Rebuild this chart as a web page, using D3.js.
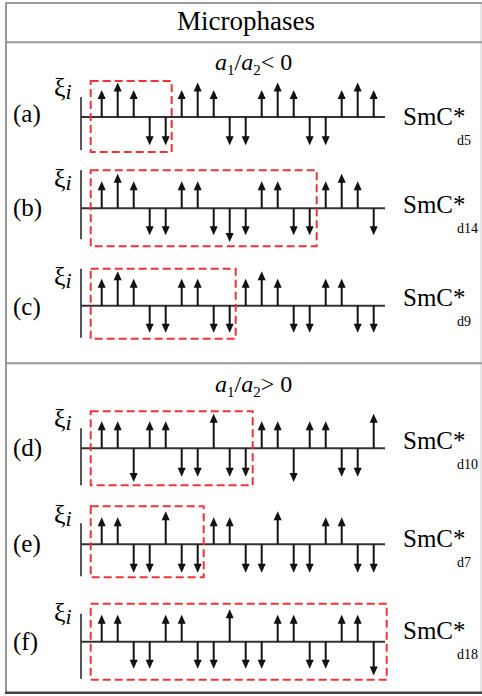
<!DOCTYPE html>
<html>
<head>
<meta charset="utf-8">
<script src="https://cdn.jsdelivr.net/npm/d3@7"></script>
<style>
  body { margin: 0; background: #fff; }
  svg { display: block; font-family: "Liberation Serif", "Times New Roman", serif; }
</style>
</head>
<body>
<svg id="chart" width="482" height="696"></svg>
<script>
// site values (xi_i), one array per microphase
const rowLabels = ["(a)", "(b)", "(c)", "(d)", "(e)", "(f)"];
const phaseSubs = ["d5", "d14", "d9", "d10", "d7", "d18"];
const periods = [5, 14, 9, 10, 7, 18];
const rowA = [1, 1.28, 1, -1.05, -1.05, 1, 1.28, 1, -1.05, -1.05, 1, 1.28, 1, -1.05, -1.05, 1, 1.28, 1];
const rowB = [1, 1.28, 1, -1, -1, 1, 1, -1, -1.25, -1, 1, 1, -1, -1, 1, 1.28, 1, -1];
const rowC = [1, 1.28, 1, -1, -1, 1, 1, -1, -1, 1, 1.28, 1, -1, -1, 1, 1, -1, -1];
const rowD = [1, 1, -1.25, 1, 1, -1.05, -1.05, 1.28, -1.05, -1.05, 1, 1, -1.25, 1, 1, -1.05, -1.05, 1.28];
const rowE = [1, 1, -1.05, -1.05, 1.22, -1.05, -1.05, 1, 1, -1.05, -1.05, 1.22, -1.05, -1.05, 1, 1, -1.05, -1.05];
const rowF = [1, 1, -1, -1, 1, 1, -1, -1, 1.2, -1, -1, 1, 1, -1, -1, 1, 1, -1.25];
const rowValues = [rowA, rowB, rowC, rowD, rowE, rowF];

// layout of each row (pixels)
const layout = [
  { base: 117,   axisTop: -20, axisBot: 33, boxTop: -36, boxBot: 35, padR: 6,  labDy: 5, phaseDy: 8 },
  { base: 208.3, axisTop: -38, axisBot: 31, boxTop: -38, boxBot: 38, padR: 7,  labDy: 8, phaseDy: 5 },
  { base: 305.7, axisTop: -37, axisBot: 32, boxTop: -37, boxBot: 33, padR: 6,  labDy: 9, phaseDy: 0 },
  { base: 448.3, axisTop: -20, axisBot: 37, boxTop: -37, boxBot: 37, padR: 7,  labDy: 8, phaseDy: 1 },
  { base: 544.3, axisTop: -21, axisBot: 32, boxTop: -38, boxBot: 33, padR: 6,  labDy: 8, phaseDy: 3 },
  { base: 641.7, axisTop: -28, axisBot: 37, boxTop: -38, boxBot: 38, padR: 13, labDy: 8, phaseDy: -3 }
];

const svg = d3.select("#chart");
const x = d3.scaleLinear().domain([0, 17]).range([101.7, 373.7]);
const unit = 27;
const headW = 8, headH = 9;
const red = "#ee3439";

// frame
const frameColor = "#999";
svg.append("line").attr("x1", 6).attr("x2", 6).attr("y1", 3).attr("y2", 693)
  .attr("stroke", frameColor).attr("stroke-width", 2);
svg.append("line").attr("x1", 481).attr("x2", 481).attr("y1", 3).attr("y2", 693)
  .attr("stroke", "#ccc").attr("stroke-width", 1);
[3, 42.3, 363.3].forEach(function (yy) {
  svg.append("line").attr("x1", 5).attr("x2", 482).attr("y1", yy).attr("y2", yy)
    .attr("stroke", frameColor).attr("stroke-width", 2);
});
svg.append("line").attr("x1", 5).attr("x2", 482).attr("y1", 692.7).attr("y2", 692.7)
  .attr("stroke", "#444").attr("stroke-width", 2.5);

// title
svg.append("text").attr("x", 246).attr("y", 30)
  .attr("text-anchor", "middle").style("font-size", "27px")
  .text("Microphases");

// ratio headings
function ratioText(yy, sign) {
  const t = svg.append("text").attr("x", 215).attr("y", yy).style("font-size", "24px");
  t.append("tspan").style("font-style", "italic").text("a");
  t.append("tspan").attr("dy", 5).style("font-size", "15px").text("1");
  t.append("tspan").attr("dy", -5).text("/");
  t.append("tspan").style("font-style", "italic").text("a");
  t.append("tspan").attr("dy", 5).style("font-size", "15px").text("2");
  t.append("tspan").attr("dy", -5).text(sign + " 0");
}
ratioText(70, "<");
ratioText(391.7, ">");

rowValues.forEach(function (vals, r) {
  const L = layout[r];
  const y = d3.scaleLinear().domain([-1, 1]).range([L.base + unit, L.base - unit]);
  const g = svg.append("g");

  // vertical axis
  g.append("line").attr("x1", 81).attr("x2", 81)
    .attr("y1", L.base + L.axisTop).attr("y2", L.base + L.axisBot)
    .attr("stroke", "#555").attr("stroke-width", 2);
  // baseline
  g.append("line").attr("x1", 81).attr("x2", 385)
    .attr("y1", L.base).attr("y2", L.base)
    .attr("stroke", "#333").attr("stroke-width", 2);

  // arrows
  const arrows = g.selectAll("g.arrow").data(vals).enter().append("g").attr("class", "arrow");
  arrows.append("line")
    .attr("x1", function (d, i) { return x(i); })
    .attr("x2", function (d, i) { return x(i); })
    .attr("y1", L.base)
    .attr("y2", function (d) { return y(d) + (d > 0 ? headH - 1 : -headH + 1); })
    .attr("stroke", "#111").attr("stroke-width", 2);
  arrows.append("path")
    .attr("d", function (d, i) {
      const tx = x(i), ty = y(d), s = d > 0 ? 1 : -1;
      return "M" + tx + "," + ty + "L" + (tx - headW / 2) + "," + (ty + s * headH) +
        "L" + (tx + headW / 2) + "," + (ty + s * headH) + "Z";
    })
    .attr("fill", "#111");

  // unit cell box
  g.append("rect")
    .attr("x", x(0) - 11)
    .attr("y", L.base + L.boxTop)
    .attr("width", x(periods[r] - 1) + L.padR - (x(0) - 11))
    .attr("height", L.boxBot - L.boxTop)
    .attr("fill", "none").attr("stroke", red).attr("stroke-width", 2)
    .attr("stroke-dasharray", "8,4");

  // labels
  g.append("text").attr("x", 13).attr("y", L.base + L.labDy)
    .style("font-size", "25px").text(rowLabels[r]);
  const xi = g.append("text").attr("x", 54).attr("y", L.base - 21).style("font-size", "26px");
  xi.append("tspan").text("ξ");
  xi.append("tspan").attr("dy", 3).style("font-style", "italic").style("font-size", "22px").text("i");
  g.append("text").attr("x", 403).attr("y", L.base + L.phaseDy)
    .style("font-size", "25px").text("SmC*");
  g.append("text").attr("x", 457).attr("y", L.base + L.phaseDy + 20)
    .style("font-size", "14px").text(phaseSubs[r]);
});
</script>
</body>
</html>
